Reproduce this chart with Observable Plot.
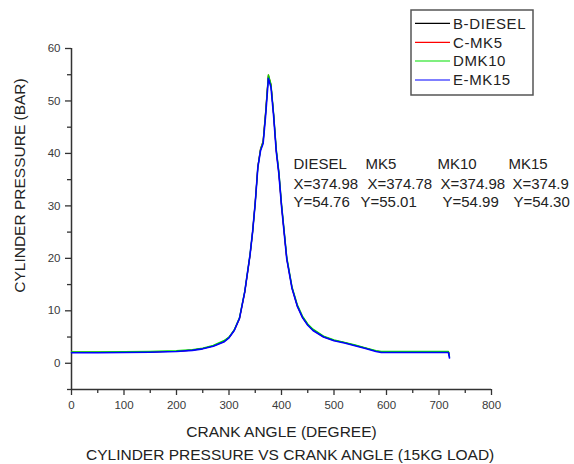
<!DOCTYPE html>
<html><head><meta charset="utf-8">
<script src="https://cdn.jsdelivr.net/npm/d3@7"></script>
<script src="https://cdn.jsdelivr.net/npm/@observablehq/plot@0.6"></script>
<style>
body{margin:0;background:#fff;font-family:"Liberation Sans",Arial,sans-serif;}
#wrap{position:relative;width:574px;height:464px;overflow:hidden;}
#cap{position:absolute;left:86px;top:446px;white-space:nowrap;font-size:15.5px;color:#222;line-height:18px;}
</style></head><body>
<div id="wrap"><div id="chart"></div>
<div id="cap">CYLINDER PRESSURE VS CRANK ANGLE (15KG LOAD)</div></div>
<script>
const angles = [0, 50, 100, 150, 200, 230, 250, 270, 290, 300, 310, 320, 330, 340, 345, 350, 355, 360, 365, 370, 375, 380, 385, 390, 395, 400, 410, 420, 430, 440, 450, 460, 480, 500, 520, 540, 560, 580, 590, 620, 650, 680, 700, 718, 720];
const diesel = [2.1, 2.1, 2.1, 2.15, 2.3, 2.5, 2.8, 3.3, 4.2, 4.9, 6.3, 8.6, 13.6, 20.6, 25.0, 30.6, 37.4, 40.6, 42.1, 47.8, 54.76, 53.0, 47.4, 40.6, 36.3, 30.2, 20.0, 14.4, 11.0, 8.8, 7.4, 6.4, 5.1, 4.4, 3.95, 3.45, 2.9, 2.35, 2.2, 2.2, 2.25, 2.2, 2.2, 2.2, 1.3];
const mk5 = [2.1, 2.1, 2.1, 2.2, 2.3, 2.5, 2.8, 3.3, 4.1, 4.9, 6.3, 8.5, 13.5, 20.5, 25.2, 30.8, 37.6, 40.9, 42.4, 48.3, 55.01, 53.1, 47.3, 40.4, 36.1, 30.0, 19.9, 14.3, 10.9, 8.7, 7.3, 6.3, 5.0, 4.35, 3.9, 3.4, 2.85, 2.3, 2.2, 2.2, 2.2, 2.25, 2.2, 2.2, 1.3];
const mk10 = [2.15, 2.15, 2.2, 2.25, 2.4, 2.6, 2.9, 3.4, 4.3, 5.0, 6.4, 8.7, 13.7, 20.7, 25.1, 30.7, 37.5, 40.8, 42.3, 48.2, 54.99, 53.2, 47.6, 40.9, 36.6, 30.5, 20.3, 14.6, 11.2, 9.0, 7.5, 6.5, 5.2, 4.45, 4.0, 3.5, 2.95, 2.4, 2.25, 2.25, 2.25, 2.25, 2.25, 2.25, 1.3];
const mk15 = [2.0, 2.0, 2.05, 2.1, 2.25, 2.45, 2.75, 3.25, 4.05, 4.85, 6.25, 8.55, 13.6, 20.6, 25.1, 30.6, 37.4, 40.5, 41.9, 47.5, 54.30, 52.6, 47.1, 40.4, 36.1, 30.0, 19.9, 14.3, 10.9, 8.7, 7.25, 6.25, 5.0, 4.3, 3.85, 3.35, 2.8, 2.25, 2.05, 2.05, 2.05, 2.05, 2.05, 2.05, 1.0];
const seriesNames = ["B-DIESEL", "C-MK5", "DMK10", "E-MK15"];
const seriesColors = ["#000000", "#ff0000", "#00e000", "#0000ff"];
const xTicks = [0, 100, 200, 300, 400, 500, 600, 700, 800];
const xMinor = [50, 150, 250, 350, 450, 550, 650, 750];
const yTicks = [0, 10, 20, 30, 40, 50, 60];
const yMinor = [-5, 5, 15, 25, 35, 45, 55];
const annHeads = ["DIESEL", "MK5", "MK10", "MK15"];
const annX = ["X=374.98", "X=374.78", "X=374.98", "X=374.9"];
const annY = ["Y=54.76", "Y=55.01", "Y=54.99", "Y=54.30"];
const xLabel = "CRANK ANGLE (DEGREE)";
const yLabel = "CYLINDER PRESSURE (BAR)";

const seriesVals = [diesel, mk5, mk10, mk15];
const rows = [];
seriesNames.forEach((s, k) => angles.forEach((a, i) => rows.push({series: s, angle: a, p: seriesVals[k][i]})));
const lineWidths = [1.1, 1.1, 1.3, 1.6];

// annotation layout (pixel offsets from frame top-left)
const headDx = [222, 294, 366, 437];
const xDx = [222, 296, 369, 441];
const yDx = [222, 289, 371, 442];
const ann = [];
annHeads.forEach((t, i) => ann.push({t, dx: headDx[i], dy: 120}));
annX.forEach((t, i) => ann.push({t, dx: xDx[i], dy: 140}));
annY.forEach((t, i) => ann.push({t, dx: yDx[i], dy: 158.5}));

const axisStyle = {stroke: "#333", strokeWidth: 1.3};
const marks = [
  Plot.axisX({ticks: xMinor, tickSize: 4, tickFormat: () => "", label: null, ...axisStyle}),
  Plot.axisX({ticks: xTicks, tickSize: 6, tickPadding: 5, label: null, ...axisStyle, fill: "#3a3a3a"}),
  Plot.axisY({ticks: yMinor, tickSize: 4, tickFormat: () => "", label: null, ...axisStyle}),
  Plot.axisY({ticks: yTicks, tickSize: 6, tickPadding: 5, label: null, ...axisStyle, fill: "#3a3a3a"}),
  Plot.ruleX([0], {y1: -5, y2: 60, stroke: "#333", strokeWidth: 1.5}),
  Plot.ruleY([-5], {x1: 0, x2: 800, stroke: "#333", strokeWidth: 1.5}),
  ...seriesNames.map((s, k) => Plot.line(rows.filter(r => r.series === s), {x: "angle", y: "p", stroke: "series", strokeWidth: lineWidths[k]})),
  ...ann.map(a => Plot.text([a.t], {frameAnchor: "top-left", dx: a.dx, dy: a.dy, textAnchor: "start", lineAnchor: "bottom", fontSize: 15, fill: "#222"})),
  Plot.text([xLabel], {frameAnchor: "bottom", dy: 43, textAnchor: "middle", fontSize: 15.5, fill: "#222", lineAnchor: "middle"}),
  Plot.text([yLabel], {frameAnchor: "left", dx: -51, dy: -33.5, rotate: -90, textAnchor: "middle", fontSize: 15.5, fill: "#222", lineAnchor: "middle"})
];

const plot = Plot.plot({
  width: 574, height: 440,
  marginLeft: 71, marginRight: 83, marginTop: 48, marginBottom: 51,
  style: {fontFamily: "'Liberation Sans', Arial, sans-serif", fontSize: "11.5px", color: "#333", background: "#fff", overflow: "visible"},
  x: {domain: [0, 800], label: null},
  y: {domain: [-5, 60], label: null},
  color: {domain: seriesNames, range: seriesColors},
  marks
});
document.getElementById("chart").appendChild(plot);

// legend
const svg = d3.select(plot);
const lg = svg.append("g").attr("font-family", "'Liberation Sans', Arial, sans-serif").attr("font-size", 15).attr("text-anchor", "start");
lg.append("rect").attr("x", 411).attr("y", 10).attr("width", 122).attr("height", 85)
  .attr("fill", "#fff").attr("stroke", "#555").attr("stroke-width", 1.5);
const legY = [23.3, 42.3, 61, 80];
seriesNames.forEach((s, i) => {
  lg.append("line").attr("x1", 415).attr("x2", 450).attr("y1", legY[i]).attr("y2", legY[i])
    .attr("stroke", seriesColors[i]).attr("stroke-width", 1.2);
  lg.append("text").attr("x", 453).attr("y", legY[i]).attr("dy", "0.36em").attr("fill", "#222")
    .attr("text-anchor", "start").attr("letter-spacing", "0.6px").text(s);
});
</script>
</body></html>
